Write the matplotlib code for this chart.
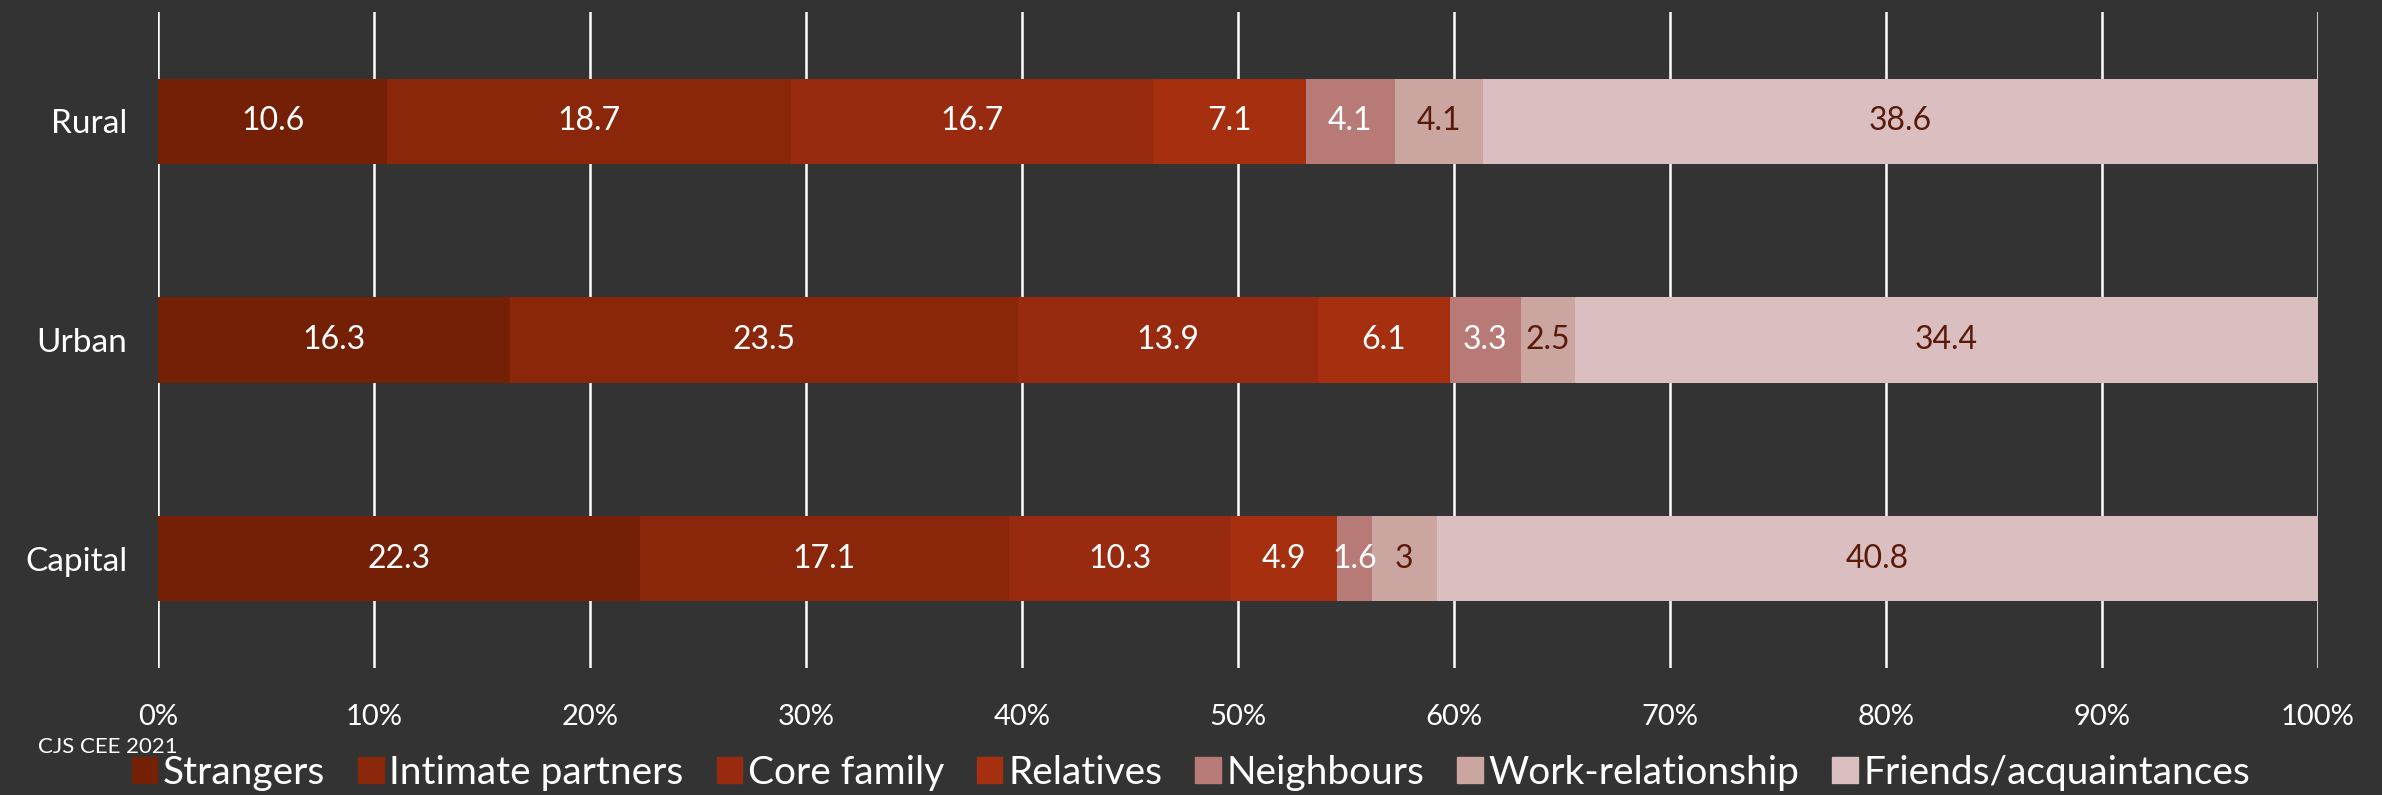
import numpy as np
import matplotlib.pyplot as plt
from matplotlib.patches import Patch

plt.rcParams['font.family'] = ['Lato', 'DejaVu Sans']

regions = ['Rural', 'Urban', 'Capital']
series = ['Strangers', 'Intimate partners', 'Core family', 'Relatives',
          'Neighbours', 'Work-relationship', 'Friends/acquaintances']
strangers = [10.6, 16.3, 22.3]
intimate = [18.7, 23.5, 17.1]
core_family = [16.7, 13.9, 10.3]
relatives = [7.1, 6.1, 4.9]
neighbours = [4.1, 3.3, 1.6]
work = [4.1, 2.5, 3]
friends = [38.6, 34.4, 40.8]
ticks = [0, 10, 20, 30, 40, 50, 60, 70, 80, 90, 100]

colors = ['#732006', '#8a270b', '#982a10', '#a62f10', '#b87a76', '#cba5a0', '#dbbfc0']
text_colors = ['white', 'white', 'white', 'white', 'white', '#5a1a0a', '#5a1a0a']
bg = '#333333'

data = np.array([strangers, intimate, core_family, relatives, neighbours, work, friends])
pct = data / data.sum(axis=0) * 100

fig = plt.figure(figsize=(23.82, 7.95), dpi=100, facecolor=bg)
ax = fig.add_axes([0.0663, 0.1597, 0.9068, 0.8253])
ax.set_facecolor(bg)

y = np.arange(len(regions))
left = np.zeros(len(regions))
for i, name in enumerate(series):
    ax.barh(y, pct[i], left=left, height=0.39, color=colors[i], label=name, zorder=3)
    for j in range(len(regions)):
        v = data[i, j]
        ax.text(left[j] + pct[i, j] / 2, y[j], '%g' % v, ha='center', va='center',
                color=text_colors[i], fontsize=23, zorder=4)
    left += pct[i]

ax.set_xlim(0, 100)
ax.set_ylim(len(regions) - 0.5, -0.5)
ax.set_xticks(ticks)
ax.set_xticklabels(['%d%%' % t for t in ticks])
ax.set_yticks(y)
ax.set_yticklabels(regions)
ax.tick_params(axis='both', length=0, colors='white', labelsize=21)
ax.tick_params(axis='x', pad=26)
ax.tick_params(axis='y', pad=22, labelsize=24)
ax.xaxis.grid(True, color='white', linewidth=1.8, zorder=0)
ax.set_axisbelow(True)
for s in ax.spines.values():
    s.set_visible(False)

handles = [Patch(color=c) for c in colors]
fig.legend(handles, series, loc='center', bbox_to_anchor=(0.5, 0.028), ncol=7,
           frameon=False, fontsize=28, labelcolor='white', handlelength=0.65,
           handleheight=0.65, handletextpad=0.15, columnspacing=0.85)

fig.text(0.016, 0.0604, 'CJS CEE 2021', color='white', fontsize=16, va='center', ha='left')

fig.savefig('out.png', dpi=100, facecolor=bg)
